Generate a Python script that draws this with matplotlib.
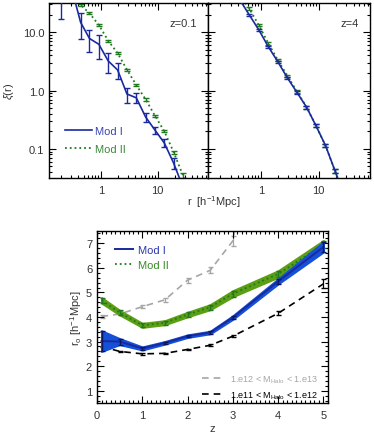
import numpy as np
import matplotlib
matplotlib.use("Agg")
import matplotlib.pyplot as plt
from matplotlib.ticker import MultipleLocator, FixedLocator, NullFormatter, LogLocator

plt.rcParams['font.family'] = ['Liberation Sans', 'DejaVu Sans']
plt.rcParams['font.size'] = 8
plt.rcParams['mathtext.fontset'] = 'custom'
plt.rcParams['mathtext.rm'] = 'Liberation Sans'
plt.rcParams['mathtext.it'] = 'Liberation Sans:italic'

# ---------------- data: correlation functions ----------------
r = [0.20, 0.30, 0.44, 0.63, 0.92, 1.35, 1.97, 2.88, 4.2, 6.15, 8.95, 13.1, 19.1, 27.9, 40.7]

xi_mod1_z01 = [40.0, 60.0, 14.7, 7.8, 6.2, 3.2, 2.25, 0.87, 0.75, 0.35, 0.21, 0.126, 0.057, 0.022, 0.009]
xi_mod1_z01_err = [23.0, 5.0, 7.0, 3.2, 2.7, 1.2, 0.7, 0.25, 0.15, 0.06, 0.03, 0.02, 0.012, 0.006, 0.003]
xi_mod2_z01 = [70.0, 45.0, 29.3, 21.1, 13.3, 7.1, 4.37, 2.27, 1.24, 0.70, 0.37, 0.20, 0.088, 0.035, 0.014]
xi_mod2_z01_err = [3.0, 2.0, 1.2, 0.9, 0.6, 0.3, 0.18, 0.09, 0.05, 0.03, 0.015, 0.009, 0.005, 0.003, 0.001]

xi_mod1_z4 = [120.0, 55.0, 35.0, 19.8, 11.0, 5.6, 3.1, 1.64, 0.93, 0.52, 0.25, 0.114, 0.042, 0.015, 0.005]
xi_mod1_z4_err = [6.0, 3.0, 1.5, 0.9, 0.5, 0.25, 0.14, 0.07, 0.05, 0.03, 0.015, 0.008, 0.004, 0.002, 0.001]
xi_mod2_z4 = [130.0, 65.0, 42.0, 25.4, 13.2, 6.4, 3.3, 1.79, 0.96, 0.52, 0.25, 0.114, 0.042, 0.016, 0.006]
xi_mod2_z4_err = [6.0, 3.0, 1.8, 1.1, 0.6, 0.3, 0.15, 0.08, 0.05, 0.03, 0.015, 0.008, 0.004, 0.002, 0.001]

# ---------------- data: correlation length vs redshift ----------------
z = [0.1, 0.5, 1.0, 1.5, 2.0, 2.5, 3.0, 4.0, 5.0]
r0_mod1 = [3.02, 3.0, 2.72, 2.95, 3.22, 3.37, 3.98, 5.45, 6.85]
r0_mod1_err = [0.42, 0.12, 0.06, 0.05, 0.05, 0.05, 0.07, 0.10, 0.20]
r0_mod2 = [4.68, 4.18, 3.66, 3.77, 4.10, 4.40, 4.95, 5.75, 6.95]
r0_mod2_err = [0.11, 0.09, 0.08, 0.08, 0.09, 0.10, 0.12, 0.13, 0.16]

z_halo_hi = [0.1, 0.5, 1.0, 1.5, 2.0, 2.5, 3.0, 4.0]
r0_halo_hi = [4.02, 4.12, 4.42, 4.70, 5.50, 5.90, 7.10, 18.0]
r0_halo_hi_err = [0.05, 0.05, 0.07, 0.08, 0.10, 0.12, 0.20, 0.40]

z_halo_lo = [0.1, 0.5, 1.0, 1.5, 2.0, 2.5, 3.0, 4.0, 5.0]
r0_halo_lo = [2.80, 2.60, 2.50, 2.52, 2.68, 2.85, 3.22, 4.15, 5.35]
r0_halo_lo_err = [0.04, 0.03, 0.03, 0.03, 0.03, 0.04, 0.05, 0.08, 0.18]

# ---------------- styles ----------------
BLUE_LINE = '#1a2a9e'
BLUE_FILL = '#1450d8'
GREEN_LINE = '#1f7a1f'
GREEN_FILL = '#5c9e14'
GRAY = '#a6a6a6'
TXT = '#333333'

W, H = 374, 435
fig = plt.figure(figsize=(W / 100, H / 100), dpi=100)


def px_axes(x0, y0, x1, y1):
    return fig.add_axes([x0 / W, 1 - y1 / H, (x1 - x0) / W, (y1 - y0) / H])


def style(ax):
    ax.tick_params(which='both', direction='in', top=True, right=True,
                   colors='black', labelcolor=TXT, labelsize=8, width=0.8)
    ax.tick_params(which='major', length=5)
    ax.tick_params(which='minor', length=2.5)
    for s in ax.spines.values():
        s.set_linewidth(1.0)


xlim_top = (0.122, 77)
ylim_top = (10 ** -1.5, 10 ** 1.5)

axL = px_axes(49, 4, 208, 179)
axR = px_axes(208, 4, 370, 179)

for ax, y1, e1, y2, e2, lab in [
        (axL, xi_mod1_z01, xi_mod1_z01_err, xi_mod2_z01, xi_mod2_z01_err, 'z=0.1'),
        (axR, xi_mod1_z4, xi_mod1_z4_err, xi_mod2_z4, xi_mod2_z4_err, 'z=4')]:
    ax.set_xscale('log')
    ax.set_yscale('log')
    ax.errorbar(r, y2, yerr=e2, color=GREEN_LINE, ls=':', lw=1.3, capsize=2.5,
                elinewidth=1.0, capthick=1.0, label='Mod II', zorder=2)
    ax.errorbar(r, y1, yerr=e1, color=BLUE_LINE, ls='-', lw=1.2, capsize=2.5,
                elinewidth=1.0, capthick=1.0, label='Mod I', zorder=3)
    ax.set_xlim(*xlim_top)
    ax.set_ylim(*ylim_top)
    ax.xaxis.set_major_locator(FixedLocator([1, 10]))
    ax.set_xticklabels(['1', '10'])
    ax.xaxis.set_minor_locator(LogLocator(base=10, subs=np.arange(2, 10)))
    ax.xaxis.set_minor_formatter(NullFormatter())
    ax.yaxis.set_major_locator(FixedLocator([0.1, 1, 10]))
    ax.yaxis.set_minor_locator(LogLocator(base=10, subs=np.arange(2, 10)))
    ax.yaxis.set_minor_formatter(NullFormatter())
    style(ax)
    ax.tick_params(axis='x', pad=5)
    ax.text(0.93, 0.885, lab, transform=ax.transAxes, ha='right', va='center',
            fontsize=8, color=TXT)

axL.set_yticklabels(['0.1', '1.0', '10.0'])
axR.set_yticklabels([])
axL.set_ylabel(r'$\xi$(r)', color=TXT, fontsize=8, labelpad=5)
fig.text(214 / W, 1 - 202 / H, r'r  [h$^{-1}$Mpc]', ha='center', va='center',
         fontsize=8, color=TXT)

h, l = axL.get_legend_handles_labels()
order = [l.index('Mod I'), l.index('Mod II')]
leg = axL.legend([h[i][0] for i in order], [l[i] for i in order], loc='upper left',
                 bbox_to_anchor=(0.04, 0.355), frameon=False, handlelength=2.4,
                 handletextpad=0.3, labelspacing=0.75, fontsize=8)
for t, c in zip(leg.get_texts(), ['#3a46b0', '#3a8a3a']):
    t.set_color(c)

# ---------------- bottom panel ----------------
ax = px_axes(97, 232, 328, 404)
z_a = np.array(z)
m1 = np.array(r0_mod1); e1 = np.array(r0_mod1_err)
m2 = np.array(r0_mod2); e2 = np.array(r0_mod2_err)

hh, = ax.plot(z_halo_hi, r0_halo_hi, color=GRAY, ls=(0, (4, 3)), lw=1.2, zorder=1,
              label=r'1.e12 < M$_{\rm Halo}$ < 1.e13')
ax.errorbar(z_halo_hi, r0_halo_hi, yerr=r0_halo_hi_err, fmt='none', ecolor=GRAY,
            elinewidth=0.9, capsize=1.8, zorder=1)
hl, = ax.plot(z_halo_lo, r0_halo_lo, color='black', ls=(0, (4, 3)), lw=1.2, zorder=1,
              label=r'1.e11 < M$_{\rm Halo}$ < 1.e12')
ax.errorbar(z_halo_lo, r0_halo_lo, yerr=r0_halo_lo_err, fmt='none', ecolor='black',
            elinewidth=0.9, capsize=1.8, zorder=1)

ax.fill_between(z_a, m2 - e2, m2 + e2, color=GREEN_FILL, lw=1.5, edgecolor=GREEN_FILL, zorder=2)
h2, = ax.plot(z_a, m2, color=GREEN_LINE, ls=':', lw=1.3, zorder=3, label='Mod II')
ax.errorbar(z_a, m2, yerr=e2, fmt='none', ecolor=GREEN_LINE, elinewidth=1.0,
            capsize=1.8, zorder=3)

ax.fill_between(z_a, m1 - e1, m1 + e1, color=BLUE_FILL, lw=1.5, edgecolor=BLUE_FILL, zorder=4)
h1, = ax.plot(z_a, m1, color=BLUE_LINE, ls='-', lw=1.4, zorder=5, label='Mod I')
ax.errorbar(z_a, m1, yerr=e1, fmt='none', ecolor='#0c1660', elinewidth=1.0,
            capsize=1.8, zorder=5)

ax.set_xlim(0, 5.1)
ax.set_ylim(0.5, 7.5)
ax.xaxis.set_major_locator(MultipleLocator(1))
ax.xaxis.set_minor_locator(MultipleLocator(0.1))
ax.yaxis.set_major_locator(MultipleLocator(1))
ax.yaxis.set_minor_locator(MultipleLocator(0.2))
ax.set_yticks([1, 2, 3, 4, 5, 6, 7])
style(ax)
ax.tick_params(axis='x', pad=5)
ax.set_xlabel('z', color=TXT, fontsize=8, labelpad=2)
ax.set_ylabel(r'r$_{\rm o}$ [h$^{-1}$Mpc]', color=TXT, fontsize=8, labelpad=1)

leg1 = ax.legend([h1, h2], ['Mod I', 'Mod II'], loc='upper left',
                 bbox_to_anchor=(0.035, 0.975), frameon=False, handlelength=1.6,
                 handletextpad=0.45, labelspacing=0.45, fontsize=8)
for t, c in zip(leg1.get_texts(), ['#2a38a8', '#3a8a2a']):
    t.set_color(c)
ax.add_artist(leg1)
leg2 = ax.legend([hh, hl], [hh.get_label(), hl.get_label()], loc='lower right',
                 bbox_to_anchor=(0.99, -0.035), frameon=False, handlelength=2.6,
                 handletextpad=0.5, labelspacing=0.5, fontsize=6.5)
for t, c in zip(leg2.get_texts(), [GRAY, 'black']):
    t.set_color(c)

fig.savefig('out.png', dpi=100)
